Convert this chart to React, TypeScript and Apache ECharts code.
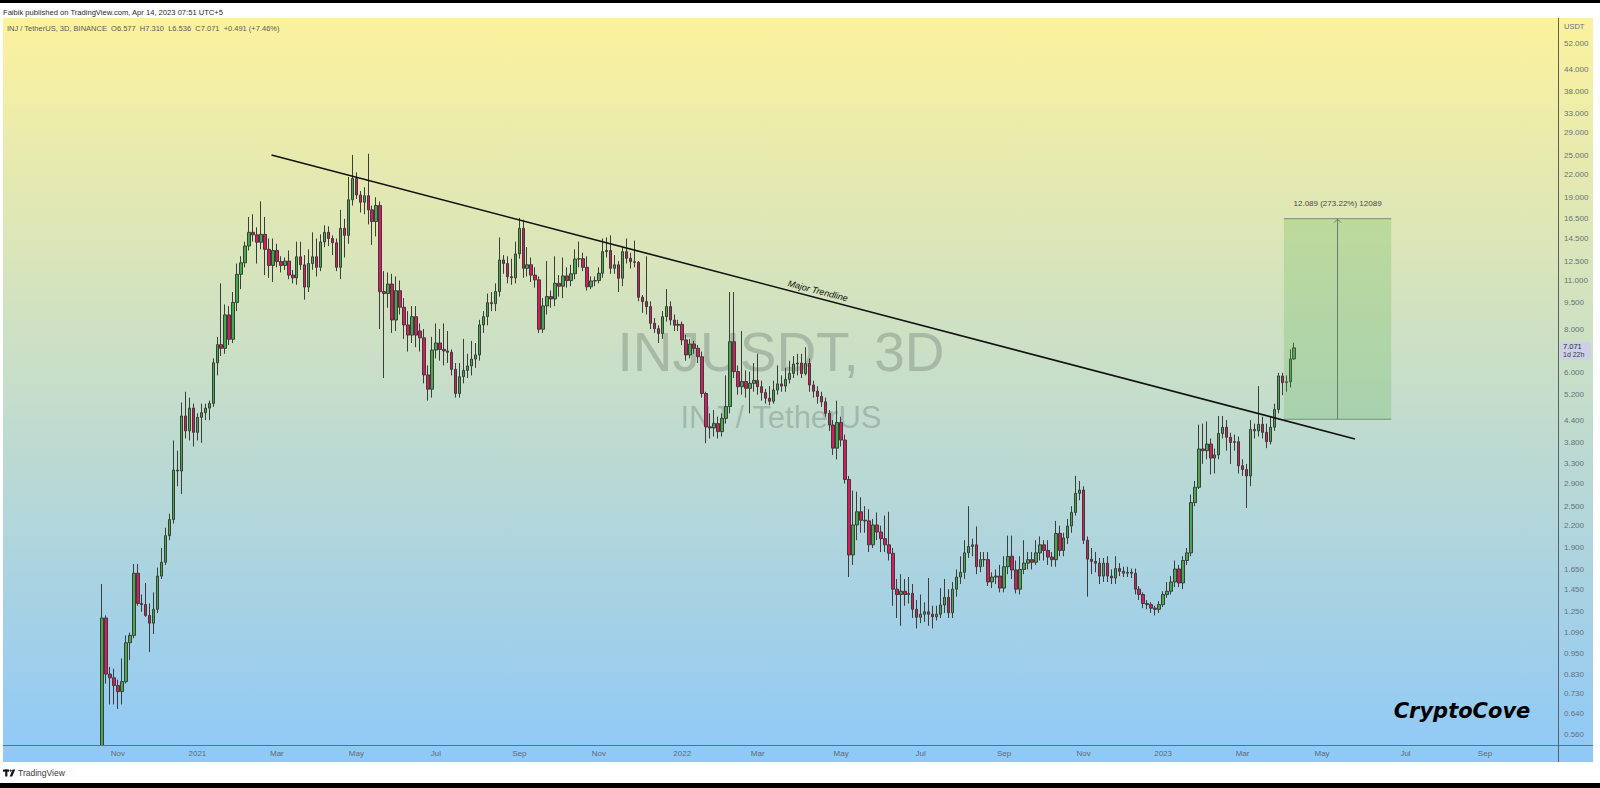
import React, { useEffect, useRef } from "react";
import * as echarts from "echarts";

// ---------------- data ----------------
// INJ / TetherUS, 3D candles. Each bar: [open, high, low, close]
const FIRST_BAR_DATE = "2020-10-22";
const BAR_DAYS = 3;
const EMPTY_BEFORE = 24; // empty slots left of first bar
const TOTAL_SLOTS = 391; // slots on the time axis (incl. future space)

const barsOct20Apr21 = [
  [0.45, 1.5, 0.42, 1.2], [1.2, 1.22, 0.78, 0.83], [0.83, 0.87, 0.68, 0.81], [0.81, 0.86, 0.68, 0.77],
  [0.77, 0.8, 0.66, 0.74], [0.74, 0.92, 0.68, 0.79], [0.79, 1.07, 0.78, 1.02], [1.02, 1.09, 0.91, 1.07],
  [1.07, 1.71, 1.05, 1.61], [1.61, 1.71, 1.3, 1.32], [1.32, 1.4, 1.25, 1.31], [1.31, 1.51, 1.21, 1.22],
  [1.22, 1.32, 0.96, 1.16], [1.16, 1.42, 1.08, 1.27], [1.27, 1.67, 1.24, 1.58], [1.58, 1.9, 1.55, 1.73],
  [1.73, 2.17, 1.7, 2.06], [2.06, 2.38, 2.0, 2.29], [2.29, 3.85, 2.23, 3.17], [3.17, 3.6, 2.85, 3.15],
  [3.15, 4.94, 2.71, 4.52], [4.52, 5.3, 3.9, 4.1], [4.1, 5.1, 3.85, 4.76], [4.76, 4.9, 3.7, 4.06],
  [4.06, 4.6, 3.85, 4.48], [4.48, 4.9, 3.79, 4.62], [4.62, 4.9, 4.4, 4.76], [4.76, 5.0, 4.4, 4.91],
  [4.91, 6.6, 4.8, 6.41], [6.41, 7.6, 5.9, 7.22], [7.22, 10.8, 6.7, 7.05], [7.05, 9.4, 6.8, 8.78],
  [8.78, 9.3, 7.2, 7.48], [7.48, 10.2, 7.3, 9.53], [9.53, 12.3, 9.0, 11.46], [11.46, 12.9, 10.4, 12.36],
  [12.36, 14.2, 12.0, 13.8], [13.8, 16.7, 13.4, 15.1], [15.1, 17.0, 14.2, 14.85], [14.85, 15.6, 12.3, 14.15],
  [14.15, 18.5, 13.5, 14.9], [14.9, 16.7, 11.4, 13.5], [13.5, 14.5, 11.2, 12.15], [12.15, 14.5, 10.9, 13.4],
  [13.4, 14.0, 12.0, 12.46], [12.46, 12.9, 11.6, 12.15], [12.15, 12.8, 11.8, 12.5], [12.5, 13.4, 11.1, 11.4],
  [11.4, 11.8, 10.8, 11.2], [11.2, 14.2, 10.7, 12.86], [12.86, 14.2, 11.8, 12.2], [12.2, 13.0, 9.7, 10.54],
  [10.54, 13.5, 10.2, 12.3], [12.3, 15.1, 11.8, 12.86], [12.86, 14.5, 11.3, 12.0], [12.0, 14.9, 11.7, 14.17],
  [14.17, 15.8, 13.7, 15.1], [15.1, 15.7, 13.8, 14.5], [14.5, 14.8, 13.0, 14.1], [14.1, 14.5, 11.7, 12.0],
  [12.0, 17.5, 11.1, 15.5],
];

const barsApr21Nov21 = [
  [15.5, 16.5, 12.8, 14.8], [14.8, 21.7, 14.0, 18.7], [18.7, 25.1, 18.0, 21.5], [21.5, 22.4, 18.8, 19.3],
  [19.3, 19.8, 17.2, 18.4], [18.4, 20.3, 17.0, 19.2], [19.2, 25.3, 15.9, 17.5], [17.5, 18.0, 13.9, 16.2],
  [16.2, 19.0, 14.7, 18.0], [18.0, 18.5, 8.0, 10.23], [10.23, 11.7, 5.8, 10.1], [10.1, 11.6, 9.2, 10.75],
  [10.75, 11.5, 7.8, 8.49], [8.49, 11.3, 7.9, 10.29], [10.29, 11.0, 8.8, 9.23], [9.23, 9.8, 7.5, 8.22],
  [8.22, 9.0, 6.9, 7.69], [7.69, 9.3, 7.3, 8.68], [8.68, 9.3, 7.1, 7.69], [7.9, 8.3, 6.9, 7.55],
  [7.55, 8.0, 5.6, 5.92], [5.92, 6.3, 5.0, 5.39], [5.39, 7.6, 5.1, 6.97], [6.97, 8.3, 6.6, 7.3],
  [7.3, 8.0, 6.5, 7.0], [7.0, 8.3, 6.3, 6.93], [6.93, 7.9, 6.4, 6.87], [6.87, 7.0, 5.9, 6.14],
  [6.14, 6.4, 5.1, 5.24], [5.24, 6.4, 5.1, 5.85], [5.85, 7.5, 5.6, 6.1], [6.1, 6.8, 5.8, 6.28],
  [6.28, 7.4, 5.9, 6.57], [6.57, 7.3, 6.2, 6.75], [6.75, 8.5, 6.5, 8.22], [8.22, 9.0, 7.8, 8.68],
  [8.68, 10.1, 8.2, 9.51], [9.51, 10.2, 9.0, 9.45], [9.45, 10.8, 9.0, 10.23], [10.23, 14.6, 9.9, 12.59],
  [12.59, 13.0, 11.5, 12.3], [12.3, 12.9, 10.8, 11.28], [11.28, 12.7, 10.7, 11.2], [11.2, 14.2, 10.8, 13.1],
  [13.1, 16.6, 12.7, 15.5], [15.5, 16.4, 11.2, 11.92], [11.92, 13.7, 11.3, 12.2], [12.2, 12.8, 10.9, 11.4],
  [11.4, 12.0, 10.5, 11.05], [11.05, 11.3, 7.8, 7.99], [7.99, 9.8, 7.8, 9.31], [9.31, 12.5, 8.8, 9.9],
  [9.9, 10.3, 9.2, 9.75], [9.75, 12.9, 9.3, 10.8], [10.8, 11.4, 9.9, 10.6], [10.6, 12.8, 9.8, 11.34],
  [11.34, 12.0, 10.5, 11.0], [11.0, 12.2, 10.6, 11.5], [11.5, 13.5, 11.1, 12.67], [12.67, 14.2, 12.0, 12.7],
  [12.7, 13.2, 11.7, 12.0],
];

const barsNov21May22 = [
  [12.0, 12.9, 10.3, 10.56], [10.56, 11.3, 10.4, 10.97], [10.97, 11.3, 10.6, 11.0], [11.0, 12.0, 10.8, 11.54],
  [11.54, 14.5, 11.2, 13.3], [13.3, 14.6, 12.8, 13.4], [13.4, 14.8, 11.5, 11.92], [11.92, 13.0, 11.5, 12.2],
  [12.2, 12.5, 10.2, 11.17], [11.17, 13.7, 10.6, 13.3], [13.3, 14.5, 12.3, 12.73], [12.73, 13.2, 11.9, 12.45],
  [12.45, 14.3, 12.0, 12.4], [12.4, 12.5, 9.6, 9.86], [9.86, 10.0, 8.9, 9.58], [9.58, 12.9, 8.8, 9.27],
  [9.27, 9.6, 8.0, 8.31], [8.31, 8.6, 7.8, 8.02], [8.02, 8.2, 7.3, 7.77], [7.77, 9.0, 7.5, 8.68],
  [8.68, 10.4, 8.4, 9.27], [9.27, 9.6, 8.2, 8.49], [8.49, 8.8, 7.9, 8.2], [8.2, 8.5, 7.9, 8.25],
  [8.25, 8.4, 7.2, 7.45], [7.45, 7.7, 6.5, 6.75], [6.75, 7.5, 6.6, 7.25], [7.25, 7.4, 6.8, 7.05],
  [7.05, 7.2, 6.4, 6.67], [6.67, 6.9, 5.1, 5.24], [5.24, 5.3, 3.78, 4.21], [4.21, 4.6, 3.9, 4.18],
  [4.18, 4.7, 3.95, 4.3], [4.3, 4.5, 3.9, 4.08], [4.08, 4.6, 3.95, 4.45], [4.45, 5.9, 4.3, 4.81],
  [4.81, 10.2, 4.6, 7.36], [7.36, 10.2, 5.8, 6.05], [6.05, 6.3, 5.2, 5.48], [5.48, 7.9, 5.2, 5.67],
  [5.67, 6.1, 5.1, 5.42], [5.42, 6.05, 4.6, 5.6], [5.6, 6.4, 5.3, 5.71], [5.71, 6.8, 5.2, 5.48],
  [5.48, 5.7, 5.0, 5.27], [5.27, 5.4, 4.9, 5.08], [5.08, 5.5, 4.85, 4.98], [4.98, 5.7, 4.9, 5.36],
  [5.36, 6.3, 5.2, 5.58], [5.58, 5.9, 5.3, 5.5], [5.5, 6.2, 5.3, 5.75], [5.75, 6.5, 5.6, 5.98],
  [5.98, 6.7, 5.8, 6.36], [6.36, 6.8, 5.9, 6.4], [6.4, 6.8, 5.8, 5.97], [5.97, 7.1, 5.9, 6.38],
  [6.38, 6.6, 5.3, 5.54], [5.54, 5.7, 5.1, 5.32], [5.32, 5.5, 4.9, 5.14], [5.14, 5.3, 4.8, 4.96],
  [4.96, 5.1, 4.5, 4.6], [4.6, 4.7, 4.1, 4.26], [4.26, 4.4, 3.5, 3.66], [3.66, 5.0, 3.4, 4.33],
];

const barsMay22Nov22 = [
  [4.33, 4.5, 3.7, 3.86], [3.86, 4.0, 2.9, 2.98], [2.98, 3.05, 1.57, 1.815], [1.815, 2.77, 1.7, 2.21],
  [2.21, 2.75, 2.0, 2.41], [2.41, 2.65, 2.1, 2.28], [2.28, 2.5, 2.1, 2.27], [2.27, 2.45, 1.85, 1.94],
  [1.94, 2.3, 1.9, 2.21], [2.21, 2.4, 2.0, 2.11], [2.11, 2.2, 1.85, 2.02], [2.02, 2.35, 1.85, 1.94],
  [1.94, 2.41, 1.75, 1.835], [1.835, 1.9, 1.3, 1.45], [1.45, 1.55, 1.2, 1.4], [1.4, 1.6, 1.14, 1.43],
  [1.43, 1.55, 1.3, 1.4], [1.4, 1.57, 1.32, 1.41], [1.41, 1.5, 1.2, 1.27], [1.27, 1.35, 1.12, 1.205],
  [1.205, 1.4, 1.16, 1.23], [1.23, 1.33, 1.17, 1.25], [1.25, 1.56, 1.14, 1.23], [1.23, 1.3, 1.12, 1.21],
  [1.21, 1.3, 1.18, 1.23], [1.23, 1.46, 1.2, 1.307], [1.307, 1.55, 1.24, 1.374], [1.374, 1.45, 1.2, 1.242],
  [1.242, 1.52, 1.2, 1.45], [1.45, 1.65, 1.38, 1.57], [1.57, 1.8, 1.5, 1.62], [1.62, 2.0, 1.55, 1.84],
  [1.84, 2.5, 1.78, 1.92], [1.92, 2.02, 1.8, 1.94], [1.94, 2.19, 1.6, 1.68], [1.68, 1.85, 1.62, 1.76],
  [1.76, 1.85, 1.68, 1.76], [1.76, 1.85, 1.48, 1.52], [1.52, 1.62, 1.46, 1.57], [1.57, 1.65, 1.5, 1.58],
  [1.58, 1.7, 1.42, 1.46], [1.46, 1.8, 1.42, 1.68], [1.68, 2.06, 1.6, 1.796], [1.8, 2.06, 1.55, 1.645],
  [1.645, 1.75, 1.41, 1.45], [1.45, 1.8, 1.4, 1.65], [1.65, 2.0, 1.6, 1.72], [1.72, 1.85, 1.65, 1.76],
  [1.76, 1.85, 1.65, 1.73], [1.73, 2.0, 1.7, 1.84], [1.84, 2.05, 1.75, 1.94], [1.94, 2.0, 1.75, 1.87],
  [1.87, 2.0, 1.7, 1.79], [1.79, 1.85, 1.68, 1.76], [1.76, 2.27, 1.68, 2.09], [2.09, 2.2, 1.8, 1.87],
  [1.87, 2.1, 1.8, 2.03], [2.03, 2.3, 1.95, 2.195], [2.195, 2.5, 2.1, 2.4], [2.4, 3.05, 2.35, 2.72],
  [2.72, 2.95, 2.6, 2.78], [2.78, 2.85, 1.95, 2.0], [2.0, 2.05, 1.38, 1.765], [1.765, 1.9, 1.6, 1.74],
  [1.74, 1.85, 1.62, 1.72],
];

const barsNov22Apr23 = [
  [1.72, 1.78, 1.5, 1.58], [1.58, 1.78, 1.52, 1.72], [1.72, 1.8, 1.52, 1.58], [1.58, 1.65, 1.5, 1.56],
  [1.56, 1.8, 1.5, 1.66], [1.66, 1.72, 1.58, 1.63], [1.63, 1.68, 1.57, 1.61], [1.61, 1.68, 1.57, 1.62],
  [1.62, 1.66, 1.56, 1.61], [1.61, 1.66, 1.4, 1.45], [1.45, 1.48, 1.35, 1.4], [1.4, 1.42, 1.28, 1.32],
  [1.32, 1.35, 1.27, 1.31], [1.31, 1.33, 1.24, 1.28], [1.28, 1.3, 1.22, 1.27], [1.27, 1.34, 1.24, 1.31],
  [1.31, 1.43, 1.29, 1.4], [1.4, 1.52, 1.37, 1.43], [1.43, 1.58, 1.4, 1.52], [1.52, 1.75, 1.47, 1.655],
  [1.655, 1.7, 1.47, 1.51], [1.51, 1.8, 1.45, 1.75], [1.75, 1.9, 1.7, 1.84], [1.84, 2.7, 1.8, 2.56],
  [2.56, 2.95, 2.5, 2.83], [2.83, 4.27, 2.8, 3.64], [3.64, 4.3, 3.3, 3.6], [3.6, 4.36, 3.4, 3.76],
  [3.76, 3.9, 3.08, 3.43], [3.43, 3.65, 3.1, 3.5], [3.5, 4.52, 3.4, 4.03], [4.03, 4.52, 3.9, 4.2],
  [4.2, 4.4, 3.6, 3.93], [3.93, 4.05, 3.3, 3.8], [3.8, 4.0, 3.6, 3.82], [3.82, 3.95, 3.1, 3.26],
  [3.26, 3.4, 3.05, 3.18], [3.18, 3.3, 2.47, 3.05], [3.05, 4.4, 2.85, 4.14], [4.14, 4.3, 3.9, 4.1],
  [4.1, 5.5, 3.95, 4.28], [4.28, 4.5, 3.9, 4.06], [4.06, 4.3, 3.66, 3.82], [3.82, 4.5, 3.75, 4.2],
  [4.2, 4.9, 4.1, 4.72], [4.72, 6.0, 4.6, 5.88], [5.88, 6.0, 5.18, 5.63], [5.63, 5.9, 5.3, 5.66],
  [5.66, 7.0, 5.45, 6.577], [6.577, 7.31, 6.536, 7.071],
];

const priceTicks = [52, 44, 38, 33, 29, 25, 22, 19, 16.5, 14.5, 12.5, 11, 9.5, 8, 6, 5.2, 4.4, 3.8, 3.3,
  2.9, 2.5, 2.2, 1.9, 1.65, 1.45, 1.25, 1.09, 0.95, 0.83, 0.73, 0.64, 0.56];
const priceMin = 0.5211;
const priceMax = 61.68;
const MONTH_NAMES = ["Jan", "Feb", "Mar", "Apr", "May", "Jun", "Jul", "Aug", "Sep", "Oct", "Nov", "Dec"];

// drawings, in [bar index, price]
const trendlineFrom = [42.65, 25.09];
const trendlineTo = [315.3, 3.889];
const measureBars = [297.4, 324.4];
const measurePrices = [4.4246, 16.5136];
const lastPrice = 7.071;

const headerText = "Faibik published on TradingView.com, Apr 14, 2023 07:51 UTC+5";
const symbolText = "INJ / TetherUS, 3D, BINANCE\u00a0\u00a0O6.577\u00a0\u00a0H7.310\u00a0\u00a0L6.536\u00a0\u00a0C7.071\u00a0\u00a0+0.491 (+7.46%)";

const SANS = '"Liberation Sans", Arial, sans-serif';

export default function App() {
  const ref = useRef<HTMLDivElement>(null);

  useEffect(() => {
    document.body.style.margin = "0";
    const el = ref.current!;
    const chart = echarts.init(el, null, { renderer: "svg", width: 1600, height: 788 });

    const bars = [...barsOct20Apr21, ...barsApr21Nov21, ...barsNov21May22, ...barsMay22Nov22, ...barsNov22Apr23];
    const first = new Date(FIRST_BAR_DATE + "T00:00:00Z").getTime();
    const categories: string[] = [];
    for (let i = 0; i < TOTAL_SLOTS; i++) {
      const d = new Date(first + (i - EMPTY_BEFORE) * BAR_DAYS * 86400000);
      categories.push(d.toISOString().slice(0, 10));
    }
    const showLabel = (i: number) => {
      if (i <= 0) return false;
      const d = categories[i];
      const p = categories[i - 1];
      if (d < "2020-11-01") return false;
      const m = +d.slice(5, 7) - 1;
      const pm = +p.slice(5, 7) - 1;
      return m !== pm && m % 2 === 0;
    };
    const labelText = (v: string) => {
      const m = +v.slice(5, 7) - 1;
      return m === 0 ? v.slice(0, 4) : MONTH_NAMES[m];
    };

    chart.setOption({
      animation: false,
      backgroundColor: "#ffffff",
      grid: { left: 4.64, right: 41.5, top: 18, bottom: 43, containLabel: false },
      xAxis: {
        type: "category",
        z: 80,
        data: categories,
        boundaryGap: true,
        axisLine: { show: false },
        axisTick: { show: false },
        splitLine: { show: false },
        axisLabel: {
          interval: (index: number) => showLabel(index),
          formatter: (v: string) => labelText(v),
          color: "#5f6b75",
          fontSize: 8,
          fontFamily: SANS,
          margin: 4,
        },
      },
      yAxis: {
        type: "log",
        logBase: 10,
        position: "right",
        min: priceMin,
        max: priceMax,
        axisLine: { show: false },
        axisTick: { show: false },
        axisLabel: { show: false },
        splitLine: { show: false },
      },
      series: [
        {
          type: "candlestick",
          data: bars.map((b, k) => [EMPTY_BEFORE + k, b[0], b[3], b[2], b[1]]),
          encode: { x: 0, y: [1, 2, 3, 4] },
          barWidth: 3,
          clip: true,
          itemStyle: {
            color: "#45a84b",
            color0: "#d81b60",
            borderColor: "#3a3f3a",
            borderColor0: "#3f3a3c",
            borderWidth: 1,
          },
        },
      ],
    });

    const x0 = chart.convertToPixel({ xAxisIndex: 0 }, EMPTY_BEFORE) as number;
    const x100 = chart.convertToPixel({ xAxisIndex: 0 }, EMPTY_BEFORE + 100) as number;
    const xPix = (k: number) => x0 + ((x100 - x0) * k) / 100;
    const yPix = (v: number) => chart.convertToPixel({ yAxisIndex: 0 }, v) as number;

    const txt = (text: string, x: number, y: number, o: any = {}) => ({
      type: "text",
      z: o.z ?? 50,
      rotation: o.rotation ?? 0,
      x,
      y,
      silent: true,
      style: {
        text,
        x: 0,
        y: 0,
        fill: o.fill ?? "#333",
        fontSize: o.size ?? 8,
        fontFamily: o.family ?? SANS,
        fontWeight: o.weight ?? "normal",
        fontStyle: o.style ?? "normal",
        align: o.align ?? "left",
        verticalAlign: "middle",
        textAlign: o.align ?? "left",
        textVerticalAlign: "middle",
      },
    });

    const bgGradient = () =>
      new echarts.graphic.LinearGradient(0, 18, 0, 762, [
        { offset: 0, color: "#fcf29d" },
        { offset: 1, color: "#8fc9f8" },
      ], true);

    const elements: any[] = [];
    // frame background
    elements.push({ type: "rect", z: -100, silent: true, shape: { x: 3, y: 18, width: 1590, height: 744 }, style: { fill: bgGradient() } });
    // time-scale strip and page margin drawn above the plot so nothing spills below it
    elements.push({ type: "rect", z: 35, silent: true, shape: { x: 3, y: 745.5, width: 1590, height: 16.5 }, style: { fill: bgGradient() } });
    elements.push({ type: "rect", z: 35, silent: true, shape: { x: 0, y: 762, width: 1600, height: 21 }, style: { fill: "#ffffff" } });
    elements.push({ type: "rect", z: 60, silent: true, shape: { x: 0, y: 0, width: 1600, height: 3 }, style: { fill: "#000" } });
    elements.push({ type: "rect", z: 60, silent: true, shape: { x: 0, y: 783, width: 1600, height: 5 }, style: { fill: "#000" } });
    // axis separators
    elements.push({ type: "line", z: 40, silent: true, shape: { x1: 3, y1: 745.5, x2: 1593, y2: 745.5 }, style: { stroke: "#60727f", lineWidth: 1 } });
    elements.push({ type: "line", z: 40, silent: true, shape: { x1: 1558.5, y1: 18, x2: 1558.5, y2: 762 }, style: { stroke: "#5a6068", lineWidth: 1 } });

    // header
    elements.push(txt(headerText, 3, 12, { fill: "#2a2a2a", size: 7.6 }));
    elements.push(txt(symbolText, 7, 28, { fill: "#5a5a50", size: 7.5 }));

    // price scale
    elements.push(txt("USDT", 1564, 26, { fill: "#66727c", size: 7.5 }));
    priceTicks.forEach((v) => {
      elements.push(txt(v.toFixed(3), 1564, yPix(v), { fill: "#66727c", size: 8 }));
    });
    const ly = yPix(lastPrice);
    elements.push({ type: "rect", z: 45, silent: true, shape: { x: 1560, y: ly - 6, width: 31, height: 18 }, style: { fill: "#cdd0e6" } });
    elements.push(txt(lastPrice.toFixed(3), 1563, ly - 1, { fill: "#2a2a3a", size: 7.5 }));
    elements.push(txt("1d 22h", 1563, ly + 7, { fill: "#3a3a4a", size: 7 }));

    // watermark
    elements.push(txt("INJUSDT, 3D", 781, 352, { z: -50, fill: "rgba(95,105,100,0.33)", size: 55, align: "center" }));
    elements.push(txt("INJ / TetherUS", 781, 417, { z: -50, fill: "rgba(95,105,100,0.33)", size: 31, align: "center" }));

    // trendline
    const tx1 = xPix(trendlineFrom[0]);
    const ty1 = yPix(trendlineFrom[1]);
    const tx2 = xPix(trendlineTo[0]);
    const ty2 = yPix(trendlineTo[1]);
    elements.push({ type: "line", z: 30, silent: true, shape: { x1: tx1, y1: ty1, x2: tx2, y2: ty2 }, style: { stroke: "#111", lineWidth: 1.6 } });
    const ang = Math.atan2(ty2 - ty1, tx2 - tx1);
    const lx = 816;
    const lyLine = ty1 + ((lx - tx1) * (ty2 - ty1)) / (tx2 - tx1);
    elements.push(txt("Major Trendline", lx + Math.sin(ang) * 7, lyLine - Math.cos(ang) * 7, {
      rotation: -ang, align: "center", size: 9, style: "italic", fill: "#111",
    }));

    // measure box
    const mx1 = xPix(measureBars[0]);
    const mx2 = xPix(measureBars[1]);
    const my1 = yPix(measurePrices[1]);
    const my2 = yPix(measurePrices[0]);
    const mxc = (mx1 + mx2) / 2;
    elements.push({ type: "rect", z: 20, silent: true, shape: { x: mx1, y: my1, width: mx2 - mx1, height: my2 - my1 }, style: { fill: "rgba(90,180,80,0.25)" } });
    elements.push({ type: "line", z: 21, silent: true, shape: { x1: mx1, y1: my1, x2: mx2, y2: my1 }, style: { stroke: "#788c80", lineWidth: 1 } });
    elements.push({ type: "line", z: 21, silent: true, shape: { x1: mx1, y1: my2, x2: mx2, y2: my2 }, style: { stroke: "#788c80", lineWidth: 1 } });
    elements.push({ type: "line", z: 21, silent: true, shape: { x1: mxc, y1: my2, x2: mxc, y2: my1 }, style: { stroke: "#6c7a72", lineWidth: 1 } });
    elements.push({ type: "polyline", z: 21, silent: true, shape: { points: [[mxc - 3.5, my1 + 4], [mxc, my1 + 0.5], [mxc + 3.5, my1 + 4]] }, style: { stroke: "#6c7a72", lineWidth: 1, fill: null } });
    const diff = measurePrices[1] - measurePrices[0];
    const pct = (diff / measurePrices[0]) * 100;
    elements.push(txt(`${diff.toFixed(3)} (${pct.toFixed(2)}%) ${Math.round(diff * 1000)}`, mxc, my1 - 15, { fill: "#4a4a4a", size: 8, align: "center" }));

    // signature
    elements.push(txt("CryptoCove", 1462, 711, { fill: "#000", size: 21, weight: "bold", style: "italic", family: '"DejaVu Sans", sans-serif', align: "center" }));

    // TradingView footer
    elements.push({ type: "rect", z: 50, silent: true, shape: { x: 3, y: 769.5, width: 6, height: 2.2 }, style: { fill: "#131722" } });
    elements.push({ type: "rect", z: 50, silent: true, shape: { x: 5.2, y: 769.5, width: 2.2, height: 7 }, style: { fill: "#131722" } });
    elements.push({ type: "circle", z: 50, silent: true, shape: { cx: 10.6, cy: 770.6, r: 1.1 }, style: { fill: "#131722" } });
    elements.push({ type: "polygon", z: 50, silent: true, shape: { points: [[12.6, 769.5], [15.2, 769.5], [12.2, 776.5], [9.6, 776.5]] }, style: { fill: "#131722" } });
    elements.push(txt("TradingView", 18, 773, { fill: "#3a3a3a", size: 8.5 }));

    chart.setOption({ graphic: { elements } });

    return () => chart.dispose();
  }, []);

  return <div ref={ref} style={{ position: "fixed", left: 0, top: 0, width: 1600, height: 788 }} />;
}
